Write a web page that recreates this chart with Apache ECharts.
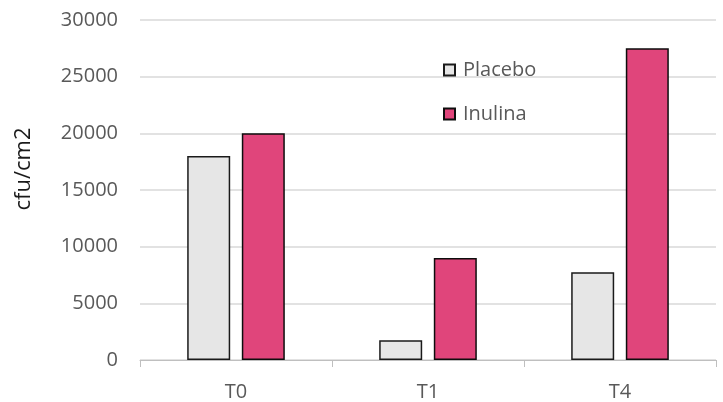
<!DOCTYPE html>
<html>
<head>
<meta charset="utf-8">
<script src="https://cdn.jsdelivr.net/npm/echarts@6/dist/echarts.min.js"></script>
<style>
  html, body { margin: 0; padding: 0; background: #fff; }
  #chart { width: 723px; height: 402px; }
</style>
</head>
<body>
<div id="chart"></div>
<script>
// Sampling times and colony counts per group
const categories = ['T0', 'T1', 'T4'];
const placebo = [18000, 1750, 7750];
const inulina = [20000, 9000, 27500];
const yTicks = { min: 0, max: 30000, interval: 5000 };

const FONT = '"Open Sans", "Noto Sans", sans-serif';
const chart = echarts.init(document.getElementById('chart'), null, { renderer: 'canvas' });

chart.setOption({
  animation: false,
  backgroundColor: '#ffffff',
  grid: { left: 140, right: 7, top: 20, bottom: 39, containLabel: false },
  legend: {
    orient: 'vertical',
    left: 438,
    top: 55,
    itemWidth: 11,
    itemHeight: 11,
    itemGap: 24,
    icon: 'rect',
    textStyle: { fontFamily: FONT, fontSize: 20, color: '#595959', padding: [0, 0, 0, 3] },
    data: ['Placebo', 'Inulina']
  },
  xAxis: {
    type: 'category',
    data: categories,
    axisLine: { lineStyle: { color: '#bfbfbf', width: 1 } },
    axisTick: { show: true, alignWithLabel: false, length: 7, lineStyle: { color: '#bfbfbf' } },
    axisLabel: { fontFamily: FONT, fontSize: 20, color: '#595959', margin: 22 }
  },
  yAxis: {
    type: 'value',
    min: yTicks.min,
    max: yTicks.max,
    interval: yTicks.interval,
    name: 'cfu/cm2',
    nameLocation: 'middle',
    nameGap: 105,
    nameRotate: 90,
    nameTextStyle: {
      fontFamily: FONT, fontSize: 22, color: '#1a1a1a',
      // lifts the rotated title a little above the plot's centre
      padding: [0, 0, 0, 42]
    },
    axisLine: { show: false },
    axisTick: { show: false },
    axisLabel: {
      fontFamily: FONT, fontSize: 20, color: '#595959', margin: 22,
      formatter: (v) => String(v)
    },
    splitLine: { lineStyle: { color: '#d9d9d9', width: 1.5 } }
  },
  series: [
    {
      name: 'Placebo',
      type: 'bar',
      data: placebo,
      barWidth: 43,
      barGap: '27%',
      itemStyle: { color: '#e6e6e6', borderColor: '#1a1a1a', borderWidth: 1.5 }
    },
    {
      name: 'Inulina',
      type: 'bar',
      data: inulina,
      barWidth: 43,
      itemStyle: { color: '#e0457b', borderColor: '#0d0d0d', borderWidth: 1.5 }
    }
  ]
});
</script>
</body>
</html>
